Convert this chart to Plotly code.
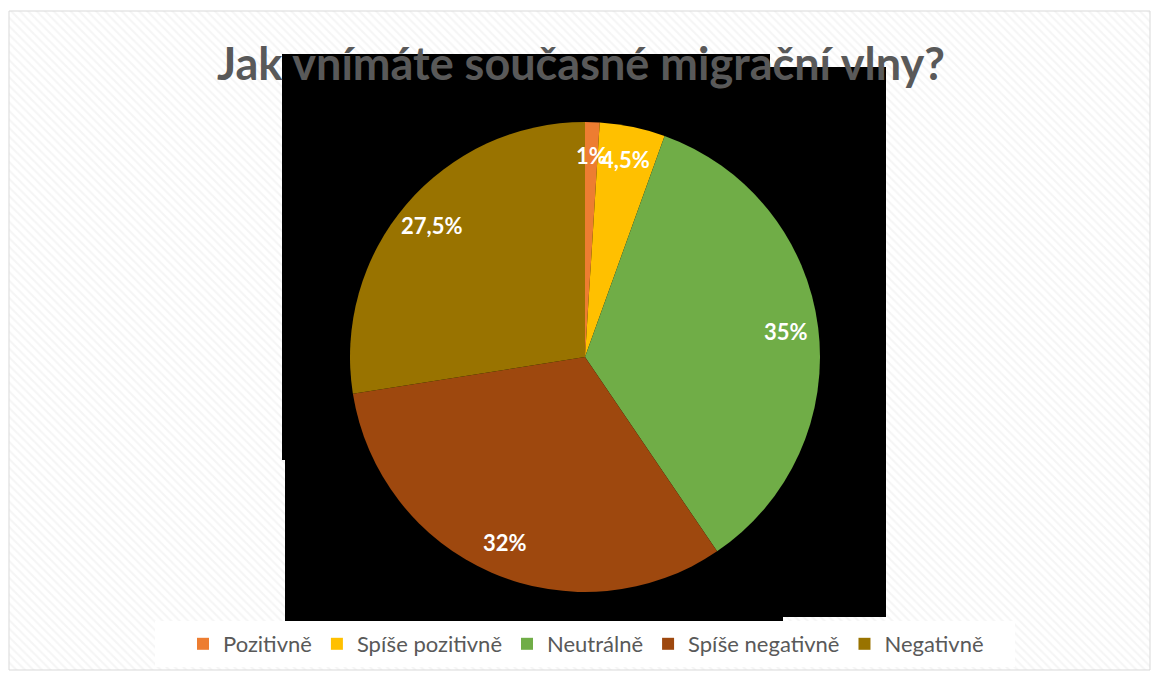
import math
import plotly.graph_objects as go

# ---- data ----
categories = ["Pozitivně", "Spíše pozitivně", "Neutrálně", "Spíše negativně", "Negativně"]
values = [1, 4.5, 35, 32, 27.5]
colors = ["#ED7D31", "#FFC000", "#70AD47", "#9E480E", "#997300"]
title_text = "Jak vnímáte současné migrační vlny?"

W, H = 1159, 678
FONT = "Lato"

# pie geometry (pixels)
pie_left, pie_right, pie_top, pie_bottom = 350, 820, 122, 592
cx = (pie_left + pie_right) / 2
cy = (pie_top + pie_bottom) / 2
R = (pie_right - pie_left) / 2
label_frac = 0.86

fig = go.Figure()

# hatched background panel
fx0, fx1, fy0, fy1 = 9, 1150, 11, 670
fig.add_trace(go.Scatter(
    x=[fx0, fx1, fx1, fx0, fx0], y=[fy0, fy0, fy1, fy1, fy0],
    mode="lines", fill="toself",
    line=dict(color="#d9d9d9", width=1),
    fillcolor="white",
    fillpattern=dict(shape="\\", fgcolor="#ececec", bgcolor="white", size=6, solidity=0.35),
    hoverinfo="skip", showlegend=False))

# black block behind the pie
bx = [282, 770, 770, 886, 886, 783, 783, 285, 285, 282, 282]
by = [54, 54, 67, 67, 617, 617, 621, 621, 460, 460, 54]
fig.add_trace(go.Scatter(
    x=bx, y=by, mode="lines", fill="toself",
    line=dict(color="black", width=0), fillcolor="black",
    hoverinfo="skip", showlegend=False))

# white legend box
lx0, lx1, ly0, ly1 = 155, 1015, 621, 667
fig.add_trace(go.Scatter(
    x=[lx0, lx1, lx1, lx0, lx0], y=[ly0, ly0, ly1, ly1, ly0],
    mode="lines", fill="toself",
    line=dict(color="white", width=0), fillcolor="white",
    hoverinfo="skip", showlegend=False))

fig.add_trace(go.Pie(
    labels=categories, values=values, sort=False, direction="clockwise",
    rotation=0, marker=dict(colors=colors, line=dict(width=0)),
    textinfo="none", hoverinfo="skip",
    domain=dict(x=[pie_left / W, pie_right / W], y=[1 - pie_bottom / H, 1 - pie_top / H]),
))

# data labels placed along each slice's mid-angle (clockwise from 12 o'clock)
total = sum(values)
cum = 0.0
for v in values:
    mid = (cum + v / 2) / total * 2 * math.pi
    cum += v
    tx = cx + R * label_frac * math.sin(mid)
    ty = cy - R * label_frac * math.cos(mid)
    txt = (f"{v:g}").replace(".", ",") + "%"
    fig.add_annotation(x=tx, y=ty, xref="x", yref="y", text=f"<b>{txt}</b>",
                       showarrow=False, font=dict(family=FONT, size=22, color="white"),
                       xanchor="center", yanchor="middle")

fig.update_layout(
    width=W, height=H,
    margin=dict(l=0, r=0, t=0, b=0),
    paper_bgcolor="white", plot_bgcolor="rgba(0,0,0,0)",
    xaxis=dict(range=[0, W], visible=False, fixedrange=True),
    yaxis=dict(range=[H, 0], visible=False, fixedrange=True),
    title=dict(text=f"<b>{title_text}</b>", x=581 / W, xanchor="center",
               y=1 - 64 / H, yanchor="middle", yref="paper",
               font=dict(family=FONT, size=45, color="#595959")),
    showlegend=True,
    legend=dict(orientation="h", x=586 / W, xanchor="center", y=1 - 644 / H, yanchor="middle",
                bgcolor="rgba(0,0,0,0)", font=dict(family=FONT, size=22, color="#595959"),
                traceorder="normal"),
)

fig.write_html("out.html", config={"displayModeBar": False},
               post_script="document.body.style.margin='0';document.body.style.overflow='hidden';")
